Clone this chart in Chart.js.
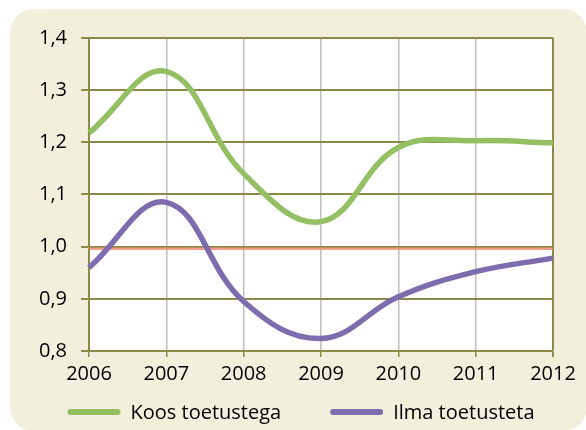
<!DOCTYPE html>
<html>
<head>
<meta charset="utf-8">
<script src="https://cdn.jsdelivr.net/npm/chart.js@4/dist/chart.umd.min.js"></script>
<style>
  html, body { margin: 0; padding: 0; background: #fff; }
  #wrap { width: 586px; height: 430px; }
</style>
</head>
<body>
<div id="wrap"><canvas id="chart" width="586" height="430"></canvas></div>
<script>
const years = ["2006", "2007", "2008", "2009", "2010", "2011", "2012"];
const koosToetustega = [1.218, 1.336, 1.14, 1.048, 1.19, 1.203, 1.199];
const ilmaToetusteta = [0.96, 1.085, 0.895, 0.824, 0.904, 0.952, 0.978];
const baseline = [0.996, 0.996, 0.996, 0.996, 0.996, 0.996, 0.996];
const yMin = 0.8, yMax = 1.4, yStep = 0.1;

const olive = "#8C8A48";
const font = { family: "'Open Sans', sans-serif", size: 20 };

// beige card + white plot area
const background = {
  id: "background",
  beforeDraw(chart) {
    const ctx = chart.ctx, a = chart.chartArea;
    ctx.save();
    ctx.fillStyle = "#F2F0DC";
    ctx.beginPath();
    ctx.roundRect(10, 9, 577, 422, 24);
    ctx.fill();
    ctx.fillStyle = "#fff";
    ctx.fillRect(a.left, a.top, a.right - a.left, a.bottom - a.top);
    ctx.restore();
  }
};

// legend drawn below the axis, two items only
const legendLines = {
  id: "legendLines",
  afterDraw(chart) {
    const ctx = chart.ctx;
    const items = chart.data.datasets.filter(d => d.inLegend);
    const lineLen = 53, gap = 10, between = 49, y = 412;
    ctx.save();
    ctx.font = font.size + "px " + font.family;
    const widths = items.map(d => lineLen + gap + ctx.measureText(d.label).width);
    const total = widths.reduce((s, w) => s + w, 0) + between * (items.length - 1);
    let x = chart.width / 2 + 8 - total / 2;
    items.forEach((d, i) => {
      ctx.strokeStyle = d.borderColor;
      ctx.lineWidth = 6;
      ctx.lineCap = "round";
      ctx.beginPath();
      ctx.moveTo(x + 3, y);
      ctx.lineTo(x + lineLen - 3, y);
      ctx.stroke();
      ctx.fillStyle = "#000";
      ctx.textBaseline = "middle";
      ctx.fillText(d.label, x + lineLen + gap, y + 1);
      x += widths[i] + between;
    });
    ctx.restore();
  }
};

new Chart(document.getElementById("chart"), {
  type: "line",
  data: {
    labels: years,
    datasets: [
      {
        label: "Koos toetustega",
        data: koosToetustega,
        borderColor: "#94BF62",
        borderWidth: 5.5,
        pointRadius: 0,
        tension: 0.4,
        inLegend: true,
        order: 0
      },
      {
        label: "Ilma toetusteta",
        data: ilmaToetusteta,
        borderColor: "#7E6DAE",
        borderWidth: 5.5,
        pointRadius: 0,
        tension: 0.4,
        inLegend: true,
        order: 1
      },
      {
        label: "1,0",
        data: baseline,
        borderColor: "rgba(240,140,115,0.85)",
        borderWidth: 2.5,
        pointRadius: 0,
        tension: 0,
        inLegend: false,
        order: 2
      }
    ]
  },
  options: {
    responsive: false,
    animation: false,
    layout: { padding: { left: 0, top: 38, right: 33, bottom: 49 } },
    plugins: {
      legend: { display: false },
      tooltip: { enabled: false }
    },
    scales: {
      x: {
        offset: false,
        afterFit(scale) { scale.height = 30; },
        grid: {
          color: c => (c.index === years.length - 1 ? olive : "#BFBFBF"),
          lineWidth: c => (c.index === years.length - 1 ? 2 : 1.5),
          tickColor: olive,
          tickLength: 6
        },
        border: { color: olive, width: 2 },
        ticks: { font: font, color: "#000", padding: 5, maxRotation: 0 }
      },
      y: {
        min: yMin,
        max: yMax,
        afterFit(scale) { scale.width = 89; },
        grid: { color: olive, lineWidth: 2, tickLength: 8 },
        border: { color: olive, width: 2 },
        ticks: {
          stepSize: yStep,
          font: font,
          color: "#000",
          padding: 14,
          callback: v => v.toFixed(1).replace(".", ",")
        }
      }
    }
  },
  plugins: [background, legendLines]
});
</script>
</body>
</html>
